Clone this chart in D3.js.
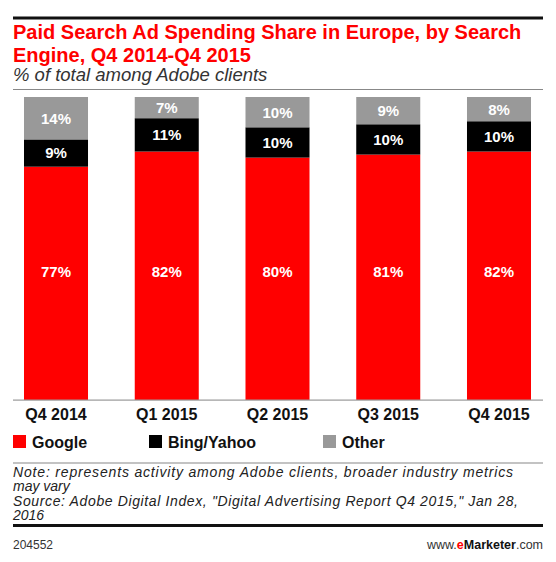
<!DOCTYPE html>
<html><head><meta charset="utf-8">
<script src="https://cdn.jsdelivr.net/npm/d3@7"></script>
<style>body{margin:0;background:#fff}svg{display:block}text{font-family:"Liberation Sans",Arial,sans-serif}</style>
</head><body>
<script>
const categories = ["Q4 2014","Q1 2015","Q2 2015","Q3 2015","Q4 2015"];
const seriesNames = ["Google","Bing/Yahoo","Other"];
const google = [77,82,80,81,82];
const bing = [9,11,10,10,10];
const other = [14,7,10,9,8];
const colors = ["#ff0000","#000000","#999999"];

const W=556,H=562;
const svg=d3.select("body").append("svg").attr("width",W).attr("height",H);
const L=13,R=543;

svg.append("rect").attr("x",L).attr("y",16.5).attr("width",R-L).attr("height",3).attr("fill","#111");
svg.append("text").attr("x",L).attr("y",39).attr("fill","#ff0000").attr("font-weight","bold").attr("font-size",20)
  .text("Paid Search Ad Spending Share in Europe, by Search");
svg.append("text").attr("x",L).attr("y",62).attr("fill","#ff0000").attr("font-weight","bold").attr("font-size",20)
  .text("Engine, Q4 2014-Q4 2015");
svg.append("text").attr("x",L).attr("y",81).attr("fill","#333").attr("font-style","italic").attr("font-size",18.5)
  .text("% of total among Adobe clients");
svg.append("rect").attr("x",L).attr("y",89).attr("width",R-L).attr("height",1).attr("fill","#888");

const rows = categories.map((c,i)=>({cat:c, Google:google[i], "Bing/Yahoo":bing[i], Other:other[i]}));
const stack = d3.stack().keys(seriesNames)(rows);

const x = d3.scaleBand().domain(categories).range([24,531]).paddingInner(0.422).paddingOuter(0);
const y = d3.scaleLinear().domain([0,100]).range([400,97]);

const g = svg.append("g");
stack.forEach((s,si)=>{
  g.selectAll(null).data(s).enter().append("rect")
    .attr("x",d=>x(d.data.cat)).attr("width",x.bandwidth())
    .attr("y",d=>y(d[1])).attr("height",d=>y(d[0])-y(d[1]))
    .attr("fill",colors[si]);
  g.selectAll(null).data(s).enter().append("text")
    .attr("x",d=>x(d.data.cat)+x.bandwidth()/2)
    .attr("y",d=> si===0 ? y(42.5) : (y(d[0])+y(d[1]))/2)
    .attr("dy","0.36em").attr("text-anchor","middle").attr("fill","#fff")
    .attr("font-weight","bold").attr("font-size",15)
    .text(d=>(d[1]-d[0])+"%");
});

const xAxis = svg.append("g").attr("transform","translate(0,400)")
  .call(d3.axisBottom(x).tickSize(0).tickPadding(9));
xAxis.select(".domain").remove();
xAxis.selectAll("text").attr("font-size",16).attr("font-weight","bold").attr("fill","#111")
  .style("font-family","'Liberation Sans',Arial,sans-serif");
svg.append("rect").attr("x",L).attr("y",399.5).attr("width",R-L).attr("height",1.2).attr("fill","#999");

const legendX=[13,149,323];
seriesNames.forEach((n,i)=>{
  svg.append("rect").attr("x",legendX[i]).attr("y",435).attr("width",13).attr("height",13).attr("fill",colors[i]);
  svg.append("text").attr("x",legendX[i]+19).attr("y",448).attr("font-size",16).attr("font-weight","bold").attr("fill","#111").text(n);
});

svg.append("rect").attr("x",L).attr("y",462.5).attr("width",R-L).attr("height",1).attr("fill","#888");
const notes=["Note: represents activity among Adobe clients, broader industry metrics","may vary",
 "Source: Adobe Digital Index, \"Digital Advertising Report Q4 2015,\" Jan 28,","2016"];
const noteLen=[500,null,505,null];
notes.forEach((t,i)=>{
  const tx=svg.append("text").attr("x",L).attr("y",476.5+i*14.5).attr("font-size",14).attr("font-style","italic").attr("fill","#222").text(t);
  if(noteLen[i]) tx.attr("textLength",noteLen[i]).attr("lengthAdjust","spacing");
});
svg.append("rect").attr("x",L).attr("y",524).attr("width",R-L).attr("height",3).attr("fill","#111");
svg.append("text").attr("x",L).attr("y",549).attr("font-size",12).attr("fill","#333").text("204552");
const ft=svg.append("text").attr("x",R).attr("y",549).attr("font-size",12.5).attr("text-anchor","end").attr("fill","#333");
ft.append("tspan").text("www.");
ft.append("tspan").attr("fill","#ff0000").attr("font-weight","bold").text("e");
ft.append("tspan").attr("font-weight","bold").attr("fill","#111").text("Marketer");
ft.append("tspan").text(".com");
</script>
</body></html>
